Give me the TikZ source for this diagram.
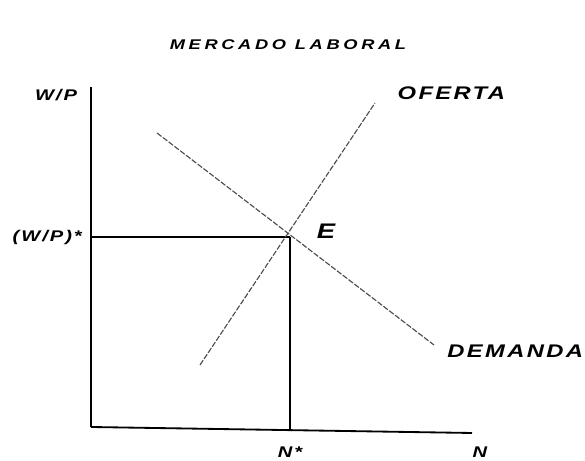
\documentclass[tikz,border=0pt]{standalone}
\usepackage{fontspec}
\usepackage{graphicx}
\newfontfamily\lblfont[LetterSpace=10]{Liberation Sans}
\newfontfamily\ttlfont[LetterSpace=20]{Liberation Sans}
\newcommand{\widetxt}[1]{\scalebox{1.3}[1]{#1}}
\usetikzlibrary{arrows}

\begin{document}
\begin{tikzpicture}[
    axis/.style={draw, line width=1.3pt},
    guide/.style={draw, line width=0.9pt},
    curve/.style={draw, line width=0.8pt, black!70, dash pattern=on 4pt off 1.2pt},
    lbl/.style={font=\lblfont\bfseries\itshape\fontsize{13}{15}\selectfont, inner sep=1pt},
    small lbl/.style={font=\lblfont\bfseries\itshape\fontsize{11}{13}\selectfont, inner sep=1pt}
]
\useasboundingbox (0,0) rectangle (14.625,11.525);

\node[inner sep=1pt, font=\ttlfont\bfseries\itshape\fontsize{10}{12}\selectfont] (title) at (7.2,10.4) {\widetxt{MERCADO LABORAL}};

% axes
\coordinate (O) at (2.275,0.85);
\coordinate (ytop) at (2.275,9.35);
\coordinate (xend) at (11.8,0.7);
\draw[axis] (ytop) -- (O);
\draw[axis] (O) -- (xend);

\node[small lbl] (wp) at (1.4,9.15) {\widetxt{W/P}};
\node[small lbl] (N) at (12.0,0.22) {\widetxt{N}};

% equilibrium
\coordinate (E) at (7.25,5.6);
\coordinate (Ey) at (2.275,5.6);
\coordinate (Ex) at (7.25,0.77);
\draw[guide] (Ey) -- (E);
\draw[guide] (E) -- (Ex);

\node[small lbl] (wpstar) at (1.18,5.575) {\widetxt{(W/P)*}};
\node[small lbl] (Nstar) at (7.25,0.22) {\widetxt{N*}};
\node[lbl, font=\lblfont\bfseries\itshape\fontsize{15}{17}\selectfont] (Elbl) at (8.15,5.75) {\widetxt{E}};

% supply and demand
\coordinate (s0) at (5.0,2.4);
\coordinate (s1) at (9.375,8.95);
\coordinate (d0) at (3.925,8.2);
\coordinate (d1) at (10.85,2.9);
\draw[curve] (s0) -- (s1);
\draw[curve] (d0) -- (d1);

\node[lbl, anchor=west] (oferta) at (9.9,9.2) {\widetxt{OFERTA}};
\node[lbl, anchor=east] (demanda) at (14.62,2.75) {\widetxt{DEMANDA}};

\end{tikzpicture}
\end{document}
